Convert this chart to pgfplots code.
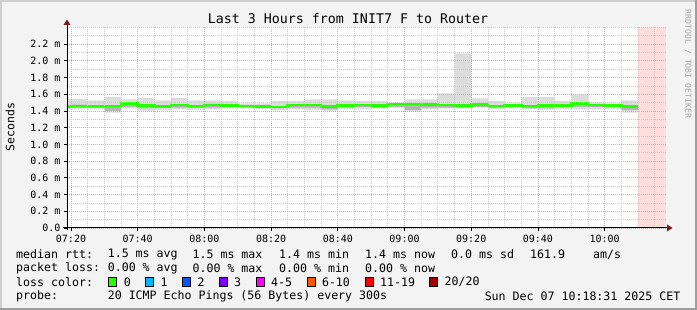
\documentclass[border=0pt]{standalone}
\usepackage{pgfplots}
\usepackage{pgfplotstable}
\pgfplotsset{compat=1.18}
\usepackage{fontspec}
\setmainfont{DejaVu Sans Mono}
\setmonofont{DejaVu Sans Mono}

\definecolor{bgc}{HTML}{F3F3F3}
\definecolor{shadeA}{HTML}{CFCFCF}
\definecolor{shadeB}{HTML}{9E9E9E}
\definecolor{mgrid}{HTML}{F0A0A0}
\definecolor{mingrid}{HTML}{C8C8C8}
\definecolor{smokeA}{HTML}{DCDCDC}
\definecolor{smokeB}{HTML}{B4B4B4}
\definecolor{medgreen}{HTML}{26FF00}
\definecolor{pinkarea}{HTML}{FFDDDD}
\definecolor{arrowred}{HTML}{7A1A1A}
\definecolor{wm}{HTML}{A8A8A8}
\definecolor{lc0}{HTML}{26FF00}
\definecolor{lc1}{HTML}{00B8FF}
\definecolor{lc2}{HTML}{0059FF}
\definecolor{lc3}{HTML}{7E00FF}
\definecolor{lc4}{HTML}{FF00FF}
\definecolor{lc5}{HTML}{FF5500}
\definecolor{lc6}{HTML}{FF0000}
\definecolor{lc7}{HTML}{A10000}

\pgfplotstableread{
t     min    q1     med    q3     max
18.8  1.420  1.440  1.456  1.470  1.548
20    1.420  1.440  1.460  1.475  1.545
25    1.420  1.435  1.460  1.470  1.528
30    1.380  1.400  1.460  1.465  1.568
35    1.428  1.450  1.488  1.490  1.540
40    1.400  1.430  1.468  1.475  1.556
45    1.408  1.435  1.452  1.470  1.528
50    1.420  1.440  1.472  1.480  1.556
55    1.412  1.435  1.460  1.470  1.528
60    1.420  1.440  1.472  1.485  1.528
65    1.428  1.445  1.468  1.480  1.520
70    1.428  1.445  1.460  1.465  1.492
75    1.420  1.440  1.452  1.460  1.492
80    1.408  1.430  1.446  1.455  1.520
85    1.420  1.440  1.472  1.480  1.520
90    1.412  1.440  1.472  1.480  1.540
95    1.400  1.420  1.452  1.460  1.540
100   1.420  1.440  1.464  1.470  1.528
105   1.420  1.445  1.472  1.475  1.520
110   1.428  1.440  1.468  1.470  1.520
115   1.436  1.450  1.484  1.490  1.500
120   1.388  1.410  1.484  1.490  1.540
125   1.420  1.440  1.476  1.485  1.540
130   1.428  1.440  1.472  1.480  1.612
135   1.428  1.440  1.468  1.475  2.088
140   1.436  1.450  1.476  1.480  1.552
145   1.420  1.440  1.460  1.465  1.520
150   1.436  1.450  1.468  1.475  1.492
155   1.420  1.430  1.460  1.465  1.568
160   1.412  1.430  1.468  1.475  1.568
165   1.420  1.445  1.468  1.475  1.520
170   1.420  1.450  1.488  1.495  1.600
175   1.420  1.445  1.472  1.480  1.500
180   1.420  1.445  1.464  1.470  1.492
185   1.380  1.410  1.450  1.455  1.528
190   1.380  1.410  1.450  1.455  1.528
}\smoke

\begin{document}
\begin{tikzpicture}
\begin{scope}[x=1pt,y=1pt]
\path[use as bounding box] (0,0) rectangle (697,310);
\fill[shadeA] (0,0) rectangle (697,310);
\fill[shadeB] (0,0) rectangle (697,2);
\fill[shadeB] (695,0) rectangle (697,310);
\fill[bgc] (2,2) rectangle (695,308);
\end{scope}

\begin{axis}[
  at={(67pt,82pt)}, anchor=south west,
  width=599pt, height=200.6pt, scale only axis,
  xmin=18.8, xmax=198.4, ymin=0, ymax=2.4,
  axis background/.style={fill=white},
  axis line style={draw=none},
  axis on top,
  xtick={20,40,...,180},
  xticklabels={07:20,07:40,08:00,08:20,08:40,09:00,09:20,09:40,10:00},
  minor xtick={25,30,35,45,50,55,65,70,75,85,90,95,105,110,115,125,130,135,145,150,155,165,170,175,185,190,195},
  ytick={0,0.2,0.4,0.6,0.8,1.0,1.2,1.4,1.6,1.8,2.0,2.2},
  yticklabels={0.0,0.2 m,0.4 m,0.6 m,0.8 m,1.0 m,1.2 m,1.4 m,1.6 m,1.8 m,2.0 m,2.2 m},
  minor ytick={0.1,0.3,0.5,0.7,0.9,1.1,1.3,1.5,1.7,1.9,2.1,2.3,2.4},
  grid=both,
  major grid style={mgrid, line width=0.8pt, dash pattern=on 1pt off 1pt},
  minor grid style={mingrid, line width=0.8pt, dash pattern=on 1pt off 1pt},
  tickpos=left, tick align=outside,
  major tick length=3pt, minor tick length=0pt,
  major tick style={black, line width=0.8pt},
  ticklabel style={font=\fontsize{10}{12}\selectfont},
  xticklabel style={yshift=-1pt},
]
\addplot[fill=pinkarea, draw=none] coordinates {(190,2.4) (198.4,2.4)} \closedcycle;
% smoke layers, each filled down to zero and overpainted by the next
\addplot[fill=smokeA, draw=none, const plot mark left] table[x=t,y=max]{\smoke} \closedcycle;
\addplot[fill=smokeB, draw=none, const plot mark left] table[x=t,y=q3]{\smoke} \closedcycle;
\addplot[fill=smokeA, draw=none, const plot mark left] table[x=t,y=q1]{\smoke} \closedcycle;
\addplot[fill=white, draw=none, const plot mark left] table[x=t,y=min]{\smoke} \closedcycle;
\addplot[medgreen, line width=2.7pt, const plot mark left, mark=none] table[x=t,y=med]{\smoke};
\end{axis}

\begin{scope}[x=1pt,y=1pt]
\draw[black, line width=1pt] (67,80) -- (67,286);
\fill[arrowred] (63.5,285) -- (70.5,285) -- (67,290.5) -- cycle;
\draw[black, line width=1pt] (63,82) -- (668,82);
\fill[arrowred] (667,78.5) -- (667,85.5) -- (672.5,82) -- cycle;

\node[font=\fontsize{13.3}{15}\selectfont] at (348,291) {Last 3 Hours from INIT7 F to Router};
\node[rotate=90, font=\fontsize{11.5}{13}\selectfont] at (10,183) {Seconds};
\node[rotate=-90, text=wm, font=\fontsize{8.2}{10}\selectfont] at (688,246) {RRDTOOL / TOBI OETIKER};

\begin{scope}[every node/.style={anchor=west, inner sep=0pt, font=\fontsize{11.6}{13}\selectfont}]
\node at (16,55.5) {median rtt:};
\node at (107.6,55.5) {1.5 ms avg};
\node at (192.4,55.5) {1.5 ms max};
\node at (279,55.5) {1.4 ms min};
\node at (365,55.5) {1.4 ms now};
\node at (451,55.5) {0.0 ms sd};
\node at (530,55.5) {161.9};
\node at (593,55.5) {am/s};

\node at (16,41.5) {packet loss:};
\node at (107.6,41.5) {0.00 \% avg};
\node at (192.4,41.5) {0.00 \% max};
\node at (279,41.5) {0.00 \% min};
\node at (365,41.5) {0.00 \% now};

\node at (16,28) {loss color:};
\node at (123.6,28) {0};
\node at (160.4,28) {1};
\node at (197.3,28) {2};
\node at (234,28) {3};
\node at (271,28) {4-5};
\node at (321.8,28) {6-10};
\node at (380,28) {11-19};
\node at (444.4,28) {20/20};

\node at (16,14) {probe:};
\node at (107.6,14) {20 ICMP Echo Pings (56 Bytes) every 300s};
\node[anchor=east] at (680.5,14) {Sun Dec 07 10:18:31 2025 CET};
\end{scope}
\foreach \xx/\cc in {108.4/lc0,145.8/lc1,182.7/lc2,219.6/lc3,256.4/lc4,307.6/lc5,365.3/lc6,429.8/lc7}{
  \filldraw[fill=\cc, draw=black, line width=0.8pt] (\xx,23.5) rectangle ++(8,9);
}
\end{scope}
\end{tikzpicture}
\end{document}
